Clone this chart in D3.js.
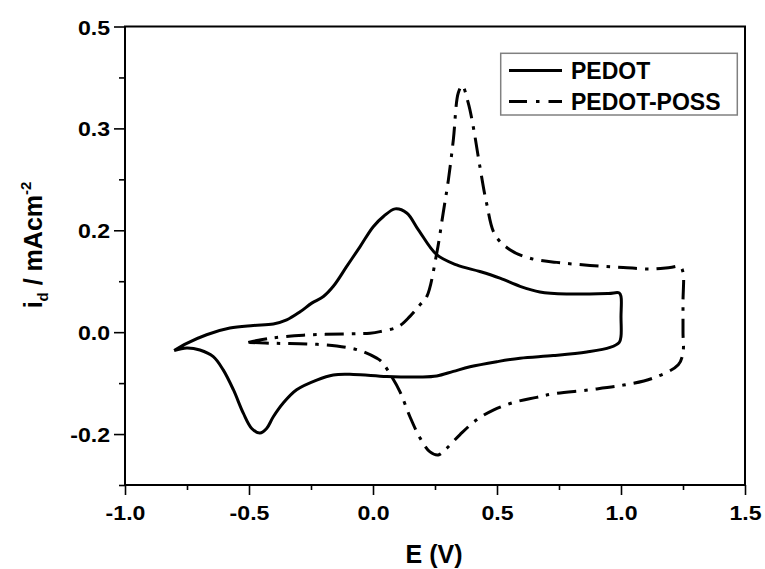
<!DOCTYPE html>
<html>
<head>
<meta charset="utf-8">
<script src="https://cdn.jsdelivr.net/npm/d3@7"></script>
<style>
  html, body { margin: 0; padding: 0; background: #fff; }
  svg { display: block; }
  text { font-family: "Liberation Sans", Arial, sans-serif; font-weight: bold; fill: #000; }
</style>
</head>
<body>
<svg id="chart" width="765" height="569"></svg>
<script>
// Cyclic voltammograms: potential E (V) and current density (mA cm^-2)
const pedotE = [-0.802, -0.751, -0.671, -0.577, -0.483, -0.402, -0.348, -0.294, -0.247, -0.200,
  -0.160, -0.106, -0.052, 0.001, 0.042, 0.089, 0.136, 0.183, 0.257, 0.337, 0.431, 0.512, 0.593,
  0.673, 0.781, 0.950, 0.993, 1.000, 1.000, 1.000, 0.993, 0.956, 0.862, 0.727, 0.593, 0.499, 0.391,
  0.324, 0.257, 0.190, 0.055, -0.079, -0.160, -0.227, -0.308, -0.362, -0.402, -0.429, -0.456,
  -0.489, -0.523, -0.563, -0.604, -0.644, -0.698, -0.751, -0.802];
const pedotI = [-0.036, -0.022, -0.005, 0.008, 0.013, 0.016, 0.024, 0.040, 0.057, 0.070,
  0.090, 0.129, 0.168, 0.207, 0.227, 0.242, 0.234, 0.201, 0.152, 0.132, 0.119, 0.106, 0.090,
  0.079, 0.075, 0.076, 0.077, 0.070, 0.030, -0.008, -0.020, -0.030, -0.039, -0.046, -0.051, -0.058,
  -0.068, -0.077, -0.086, -0.088, -0.087, -0.083, -0.084, -0.094, -0.113, -0.139, -0.166, -0.189,
  -0.198, -0.189, -0.159, -0.113, -0.074, -0.048, -0.035, -0.031, -0.036];

const possE = [-0.503, -0.415, -0.281, -0.079, -0.012, 0.028, 0.102, 0.149, 0.190, 0.217,
  0.257, 0.283, 0.304, 0.324, 0.344, 0.360, 0.384, 0.404, 0.431, 0.458, 0.492, 0.552, 0.633,
  0.741, 0.875, 1.009, 1.117, 1.198, 1.238, 1.250, 1.250, 1.250, 1.250, 1.231, 1.130, 1.009,
  0.875, 0.727, 0.660, 0.566, 0.485, 0.418, 0.351, 0.297, 0.263, 0.230, 0.190, 0.149, 0.109,
  0.075, 0.035, 0.015, -0.053, -0.146, -0.267, -0.388, -0.503];
const possI = [-0.020, -0.012, -0.006, -0.003, -0.002, 0.001, 0.011, 0.031, 0.054, 0.070,
  0.155, 0.234, 0.299, 0.378, 0.470, 0.484, 0.450, 0.404, 0.325, 0.253, 0.191, 0.162, 0.145,
  0.137, 0.131, 0.127, 0.124, 0.127, 0.129, 0.118, 0.060, 0.000, -0.040, -0.064, -0.090, -0.104,
  -0.113, -0.121, -0.128, -0.138, -0.153, -0.172, -0.201, -0.228, -0.241, -0.235, -0.208, -0.166,
  -0.117, -0.087, -0.058, -0.051, -0.036, -0.027, -0.023, -0.022, -0.020];

const seriesNames = ["PEDOT", "PEDOT-POSS"];

// Axis ticks and their printed labels
const xTicks = [-1.0, -0.5, 0.0, 0.5, 1.0, 1.5];
const xTickLabels = ["-1.0", "-0.5", "0.0", "0.5", "1.0", "1.5"];
const xMinorTicks = [-0.75, -0.25, 0.25, 0.75, 1.25];
const yTicks = [-0.2, 0.0, 0.2, 0.4, 0.6];
const yTickLabels = ["-0.2", "0.0", "0.2", "0.3", "0.5"];
const yMinorTicks = [-0.3, -0.1, 0.1, 0.3, 0.5];

const svg = d3.select("#chart");
const plot = { left: 125, right: 745, top: 26.5, bottom: 485 };

const x = d3.scaleLinear().domain([-1.0, 1.5]).range([plot.left, plot.right]);
const y = d3.scaleLinear().domain([-0.3, 0.6]).range([plot.bottom, plot.top]);

const tickScale = 1.1; // tick labels are slightly wide

// Minor ticks
svg.append("g")
  .attr("transform", `translate(0,${plot.bottom})`)
  .call(d3.axisBottom(x).tickValues(xMinorTicks).tickSize(5).tickFormat(""))
  .call(g => g.select(".domain").remove())
  .call(g => g.selectAll("line").attr("stroke-width", 1.6));
svg.append("g")
  .attr("transform", `translate(${plot.left},0)`)
  .call(d3.axisLeft(y).tickValues(yMinorTicks).tickSize(6).tickFormat(""))
  .call(g => g.select(".domain").remove())
  .call(g => g.selectAll("line").attr("stroke-width", 1.6));

// Major ticks with labels
const xAxis = svg.append("g")
  .attr("transform", `translate(0,${plot.bottom})`)
  .call(d3.axisBottom(x).tickValues(xTicks).tickSize(10).tickPadding(0)
    .tickFormat((d, i) => xTickLabels[i]))
  .call(g => g.select(".domain").remove())
  .call(g => g.selectAll("line").attr("stroke-width", 1.6));
xAxis.selectAll("text")
  .attr("font-size", 21).attr("font-family", null)
  .attr("dy", null).attr("y", 35.5)
  .attr("transform", `scale(${tickScale},1)`);

const yAxis = svg.append("g")
  .attr("transform", `translate(${plot.left},0)`)
  .call(d3.axisLeft(y).tickValues(yTicks).tickSize(11)
    .tickFormat((d, i) => yTickLabels[i]))
  .call(g => g.select(".domain").remove())
  .call(g => g.selectAll("line").attr("stroke-width", 1.6));
yAxis.selectAll("text")
  .attr("font-size", 21).attr("font-family", null)
  .attr("x", -15 / tickScale).attr("dy", "0.36em")
  .attr("transform", `scale(${tickScale},1)`);

// Frame
svg.append("rect")
  .attr("x", plot.left).attr("y", plot.top)
  .attr("width", plot.right - plot.left).attr("height", plot.bottom - plot.top)
  .attr("fill", "none").attr("stroke", "#000").attr("stroke-width", 2);

// Curves
const line = d3.line()
  .x(d => x(d[0])).y(d => y(d[1]))
  .curve(d3.curveCatmullRom.alpha(0.5));

const dashDot = "19,8,3.5,8";
const curves = [
  { name: seriesNames[0], pts: pedotE.map((e, i) => [e, pedotI[i]]), dash: null },
  { name: seriesNames[1], pts: possE.map((e, i) => [e, possI[i]]), dash: dashDot }
];

svg.append("g").selectAll("path")
  .data(curves)
  .join("path")
  .attr("d", d => line(d.pts))
  .attr("fill", "none")
  .attr("stroke", "#000")
  .attr("stroke-width", 3)
  .attr("stroke-linejoin", "round")
  .attr("stroke-dasharray", d => d.dash);

// Axis titles
svg.append("text")
  .attr("x", 434).attr("y", 563)
  .attr("text-anchor", "middle")
  .attr("font-size", 25)
  .text("E (V)");

const yTitle = svg.append("text")
  .attr("transform", "translate(42,245) rotate(-90)")
  .attr("text-anchor", "middle")
  .attr("font-size", 25);
yTitle.append("tspan").text("i");
yTitle.append("tspan").attr("font-size", 15).attr("dy", 6).text("d");
yTitle.append("tspan").attr("dy", -6).text(" / mAcm");
yTitle.append("tspan").attr("font-size", 15).attr("dy", -11).text("-2");

// Legend
const legend = svg.append("g");
legend.append("rect")
  .attr("x", 500.7).attr("y", 53.3).attr("width", 236.6).attr("height", 61.7)
  .attr("fill", "#fff").attr("stroke", "#808080").attr("stroke-width", 1.5);

const legendRows = legend.selectAll("g.row")
  .data(curves)
  .join("g")
  .attr("class", "row")
  .attr("transform", (d, i) => `translate(0,${70.5 + i * 31})`);
legendRows.append("line")
  .attr("x1", 509).attr("x2", 562)
  .attr("stroke", "#000").attr("stroke-width", 3)
  .attr("stroke-dasharray", d => d.dash ? "18,9,3.5,9" : null);
legendRows.append("text")
  .attr("x", 571).attr("dy", "0.36em")
  .attr("font-size", 23)
  .text(d => d.name);
</script>
</body>
</html>
